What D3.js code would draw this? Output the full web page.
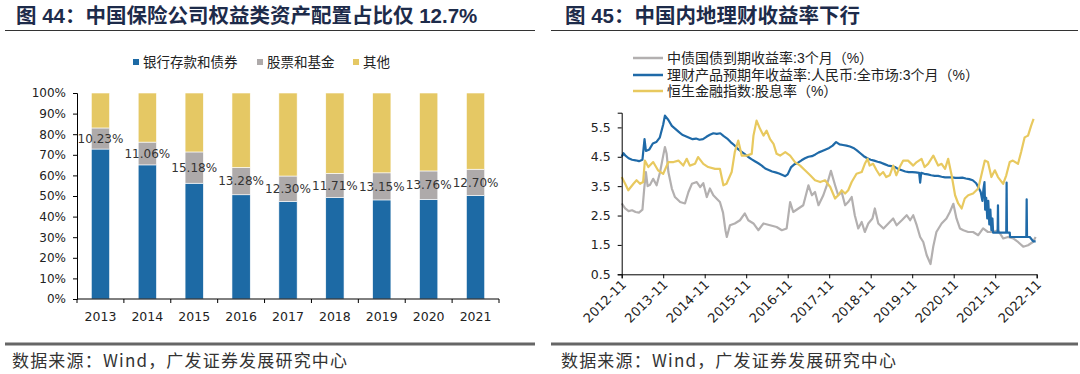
<!DOCTYPE html>
<html><head><meta charset="utf-8">
<script src="https://cdn.jsdelivr.net/npm/d3@7"></script>
<style>body{margin:0;background:#fff} svg{display:block}</style>
</head><body>
<svg id="c" width="1080" height="374"></svg>
<script>
// ---------- Data: left chart (图44) ----------
const barYears = ['2013','2014','2015','2016','2017','2018','2019','2020','2021'];
const bankBond  = [72.8, 65.1, 56.2, 50.6, 47.4, 49.3, 48.1, 48.4, 50.3];
const stockFund = [10.23, 11.06, 15.18, 13.28, 12.30, 11.71, 13.15, 13.76, 12.70];
const otherAsset = [16.97, 23.84, 28.62, 36.12, 40.30, 38.99, 38.75, 37.84, 37.00];
const barSeriesNames = ['银行存款和债券', '股票和基金', '其他'];
const yTicksLeft = [0,10,20,30,40,50,60,70,80,90,100];

// ---------- Data: right chart (图45), [months since 2012-11, value] ----------
const xTickLabels = ['2012-11','2013-11','2014-11','2015-11','2016-11','2017-11','2018-11','2019-11','2020-11','2021-11','2022-11'];
const yTicksRight = [0.5, 1.5, 2.5, 3.5, 4.5, 5.5];
const lineNames = ['中债国债到期收益率:3个月（%）', '理财产品预期年收益率:人民币:全市场:3个月（%）', '恒生金融指数:股息率（%）'];
const govBond3M = [[0,2.91],[1,2.74],[2,2.65],[3,2.68],[4,2.62],[5,2.6],[6,2.7],[6.5,3.4],[7,3.98],[7.5,3.5],[8.2,3.55],[9.1,3.75],[10.1,3.53],[11.1,3.98],[12,4.54],[12.5,4.83],[13,4.6],[13.5,3.98],[14.5,3.42],[15.4,3.13],[16.9,2.96],[18.3,2.91],[19.3,3.3],[20.3,3.58],[21.7,3.64],[22.7,3.47],[23.6,3.6],[24.6,3.13],[25.5,3.42],[26.5,3.19],[27.4,3.08],[28.4,2.96],[29.3,2.6],[30,2.0],[30.4,1.77],[31.3,2.17],[32.7,2.23],[34.2,2.34],[35.6,2.57],[36.6,2.34],[38.1,2.23],[39.5,2.0],[41,2.23],[42.9,2.17],[44.8,2.11],[46.3,2.0],[47.7,2.06],[48.7,2.96],[49.6,2.62],[51.1,2.74],[52.5,2.85],[54,3.53],[55,3.19],[55.9,3.3],[56.9,2.85],[58.3,3.19],[59.3,3.53],[60.5,4.02],[61.7,3.53],[62.6,3.19],[63.6,3.3],[64.6,2.85],[65.5,2.96],[66.5,3.13],[67.4,2.51],[68.4,2.06],[69.4,2.28],[70.3,1.94],[71.3,2.23],[72.5,2.4],[73.2,2.74],[74.2,2.23],[75.7,2.06],[77.1,2.23],[78.5,2.4],[79.5,2.17],[81,2.34],[82.4,2.51],[83.4,2.34],[84.3,2.51],[85.3,2.17],[86.3,1.77],[87.2,1.6],[88.2,1.15],[89.3,0.85],[90.1,1.45],[91,1.94],[92.5,2.23],[93.9,2.4],[94.9,2.62],[95.9,2.9],[96.8,2.4],[97.8,2.06],[98.8,2.0],[100.2,1.94],[101.6,1.94],[103.1,1.83],[104.5,2.06],[105.9,1.94],[107.4,1.94],[108.8,2.0],[110.3,1.72],[111.7,1.77],[113.2,1.72],[114.6,1.6],[116.1,1.44],[117.5,1.49],[118.9,1.6],[119.7,1.77]];
const wealthProd3M = [[0,4.5],[0.5,4.62],[1,4.55],[2,4.45],[3,4.4],[4,4.38],[5,4.35],[6,4.4],[6.6,5.1],[7,4.7],[8,4.75],[9,4.95],[10,5.0],[11,5.15],[12,5.6],[12.5,5.9],[13.5,5.75],[14.5,5.55],[15.5,5.45],[16.5,5.35],[17.5,5.25],[18.5,5.2],[19.5,5.15],[20.5,5.1],[21.5,5.12],[22.5,5.08],[23.5,5.1],[24.5,5.18],[25.5,5.25],[26.5,5.3],[27.5,5.28],[28.5,5.3],[29.5,5.2],[30.5,5.12],[31.5,5.0],[32.5,4.9],[33.5,4.78],[34.5,4.68],[35.5,4.6],[36.5,4.5],[37.5,4.42],[38.5,4.35],[39.5,4.28],[40.5,4.2],[41.5,4.1],[42.5,4.05],[43.5,4.0],[44.5,3.97],[45.5,3.93],[46.5,3.88],[47.3,3.84],[48,3.9],[49,4.15],[50,4.25],[51,4.3],[52,4.38],[53,4.45],[54,4.5],[55,4.52],[56,4.58],[57,4.65],[58,4.7],[59,4.75],[60,4.8],[61,4.88],[62,5.0],[63,4.92],[64,4.9],[65,4.88],[66,4.85],[67,4.8],[68,4.72],[69,4.62],[70,4.52],[71,4.45],[72,4.4],[73,4.37],[74,4.33],[75,4.3],[76,4.25],[77,4.2],[78,4.18],[79,4.15],[80,4.08],[81,4.04],[82,4.0],[83,3.98],[84,3.98],[85,3.97],[86,3.95],[86.3,3.62],[86.6,3.95],[87.5,3.92],[88.5,3.9],[89.5,3.87],[90.5,3.85],[91.5,3.85],[92.5,3.82],[93.5,3.8],[94.5,3.8],[95.5,3.8],[96.5,3.78],[97.5,3.78],[98.5,3.79],[99.5,3.76],[100.5,3.74],[101.5,3.7],[102.5,3.6],[103.2,3.45],[103.8,3.3],[104.3,3.0],[104.6,3.4],[104.9,3.64],[105.1,2.7],[105.4,3.1],[105.7,2.4],[106,3.0],[106.3,2.2],[106.6,2.7],[106.9,2.0],[107.2,2.4],[107.4,1.92],[108.7,1.92],[108.8,2.85],[108.9,1.92],[111.2,1.92],[111.3,3.62],[111.4,1.92],[112.2,1.92],[112.3,1.77],[117,1.77],[117.1,3.05],[117.2,1.77],[118,1.77],[119,1.62],[119.7,1.62]];
const hsFinDiv = [[0,3.81],[1,3.58],[1.9,3.36],[3.4,3.58],[4.3,3.7],[5.3,3.58],[6.2,3.64],[6.7,4.37],[7.7,4.15],[9.1,4.32],[10.5,4.04],[12,3.92],[13.5,4.32],[15,4.32],[16.4,4.37],[17.8,4.2],[18.8,4.43],[19.7,4.2],[21.2,4.26],[22.1,4.49],[23.6,4.26],[25,4.15],[27,4.09],[28.4,4.09],[29.4,3.53],[30.3,3.58],[31.8,3.98],[32.7,4.66],[33.7,5.05],[34.7,4.54],[36.1,4.54],[37.6,4.6],[38.1,5.22],[39,5.73],[40,5.45],[41,5.22],[41.9,5.39],[42.9,5.1],[43.9,4.94],[44.8,4.6],[45.8,4.54],[47.3,4.66],[48.7,4.54],[50.1,4.32],[51.6,4.2],[53,4.04],[54.5,3.87],[55.9,3.7],[57.4,3.64],[58.8,3.7],[60.3,3.47],[61.7,3.08],[62.6,3.19],[63.6,3.36],[64.6,3.25],[65.5,3.36],[66.5,3.64],[67.9,3.92],[69.4,3.98],[70.3,4.26],[71.1,4.43],[71.7,4.2],[72.7,4.26],[73.7,4.04],[74.6,3.87],[75.6,3.98],[76.5,3.81],[77.5,3.87],[78.5,4.2],[79.4,3.87],[80.4,4.15],[81.4,4.37],[82.8,4.37],[84.3,4.2],[85.3,4.32],[86.7,4.43],[87.6,4.15],[88.6,4.26],[90.1,4.54],[91.5,4.2],[92.5,4.26],[93.5,4.09],[94.4,4.43],[95.4,3.87],[96.4,3.19],[97.3,2.91],[98.3,2.74],[99.2,3.08],[100.2,3.19],[101.6,3.25],[103.1,3.42],[104,3.87],[105,4.37],[105.9,4.32],[106.9,3.81],[107.9,4.04],[108.8,3.81],[110.3,3.58],[111.2,3.87],[112.2,4.32],[113.1,4.37],[114.6,4.26],[115.5,4.66],[116.5,5.16],[117.5,5.22],[118.4,5.56],[119.1,5.79]];

// ---------- Styles ----------
const CJK = '"Liberation Sans", "Noto Sans CJK SC", sans-serif';
const CJKONLY = '"Noto Sans CJK SC", sans-serif';
const NUM = '"DejaVu Sans", sans-serif';
const barColors = ['#1d6aa5', '#aeaaaa', '#e5c864'];
const lineColors = ['#b3b0b0', '#1f6aa8', '#e8c95f'];
const titleColor = '#1d2b4a';

const svg = d3.select('#c');

// ---------- Titles, rules, source ----------
function header(x0, x1, tx, label) {
  svg.append('text').attr('x', tx).attr('y', 23)
    .attr('font-family', CJK).attr('font-weight', 'bold').attr('font-size', 20.5)
    .attr('fill', titleColor).text(label);
  svg.append('line').attr('x1', x0).attr('x2', x1).attr('y1', 30.5).attr('y2', 30.5)
    .attr('stroke', '#333').attr('stroke-width', 1);
  svg.append('line').attr('x1', x0).attr('x2', x1).attr('y1', 344).attr('y2', 344)
    .attr('stroke', '#666').attr('stroke-width', 3);
  svg.append('text').attr('x', tx - 4).attr('y', 367)
    .attr('font-family', CJKONLY).attr('font-size', 17).attr('fill', '#333')
    .attr('textLength', 335).attr('lengthAdjust', 'spacing')
    .text('数据来源：Wind，广发证券发展研究中心');
}
header(5, 535, 16, '图 44：中国保险公司权益类资产配置占比仅 12.7%');
header(551, 1078, 565, '图 45：中国内地理财收益率下行');

// ---------- Left chart ----------
const L = {x0: 77, x1: 499, yTop: 93, yBot: 299};
const xb = d3.scaleBand().domain(barYears).range([L.x0, L.x1]).padding(0);
const yb = d3.scaleLinear().domain([0, 100]).range([L.yBot, L.yTop]);
const barW = xb.bandwidth() * 0.39;
const gL = svg.append('g');

const rows = barYears.map((y, i) => ({year: y, vals: [bankBond[i], stockFund[i], otherAsset[i]]}));
rows.forEach(r => {
  let acc = 0;
  r.vals.forEach((v, k) => {
    const y0 = acc, y1 = acc + v; acc = y1;
    gL.append('rect')
      .attr('x', xb(r.year) + (xb.bandwidth() - barW) / 2)
      .attr('width', barW)
      .attr('y', yb(Math.min(y1, 100)))
      .attr('height', yb(y0) - yb(Math.min(y1, 100)))
      .attr('fill', barColors[k]).attr('stroke', '#fff').attr('stroke-width', 0.6);
  });
});
// data labels on 股票和基金 segment
rows.forEach((r, i) => {
  const mid = r.vals[0] + r.vals[1] / 2;
  gL.append('text').attr('x', xb(r.year) + xb.bandwidth() / 2).attr('y', yb(mid))
    .attr('dy', '0.36em').attr('text-anchor', 'middle')
    .attr('font-family', NUM).attr('font-size', 12).attr('fill', '#333')
    .text(stockFund[i].toFixed(2) + '%');
});
// y axis
const yAxisL = d3.axisLeft(yb).tickValues(yTicksLeft).tickSize(4).tickPadding(7).tickFormat(d => d + '%');
const gy = gL.append('g').attr('transform', `translate(${L.x0},0)`).call(yAxisL);
gy.select('.domain').attr('stroke', '#000');
gy.selectAll('.tick line').attr('stroke', '#000');
gy.selectAll('text').attr('font-family', NUM).attr('font-size', 12).attr('fill', '#222');
// x axis with ticks at category boundaries
const gx = gL.append('g').attr('transform', `translate(0,${L.yBot})`);
gx.append('line').attr('x1', L.x0).attr('x2', L.x1).attr('stroke', '#000');
const bounds = barYears.map(y => xb(y)).concat([L.x1]);
gx.selectAll('.bt').data(bounds).enter().append('line')
  .attr('x1', d => d).attr('x2', d => d).attr('y1', 0).attr('y2', 4).attr('stroke', '#000');
gx.selectAll('.bl').data(barYears).enter().append('text')
  .attr('x', d => xb(d) + xb.bandwidth() / 2).attr('y', 22).attr('text-anchor', 'middle')
  .attr('font-family', NUM).attr('font-size', 12.5).attr('fill', '#222').text(d => d);
// legend
const legX = [133, 257, 353];
barSeriesNames.forEach((n, k) => {
  gL.append('rect').attr('x', legX[k]).attr('y', 59).attr('width', 6).attr('height', 6).attr('fill', barColors[k]);
  gL.append('text').attr('x', legX[k] + 10).attr('y', 62).attr('dy', '0.36em')
    .attr('font-family', CJKONLY).attr('font-size', 13.5).attr('fill', '#222').text(n);
});

// ---------- Right chart ----------
const R = {x0: 621.7, x1: 1036.7, yTop: 112.7, yBot: 274.3};
const xr = d3.scaleLinear().domain([0, 120]).range([R.x0, R.x1]);
const yr = d3.scaleLinear().domain([0.5, 6.0]).range([R.yBot, R.yTop]);
const gR = svg.append('g');
const line = d3.line().x(d => xr(d[0])).y(d => yr(d[1]));
[govBond3M, wealthProd3M, hsFinDiv].forEach((s, k) => {
  gR.append('path').datum(s).attr('d', line).attr('fill', 'none')
    .attr('stroke', lineColors[k]).attr('stroke-width', 2.2).attr('stroke-linejoin', 'round');
});
const yAxisR = d3.axisLeft(yr).tickValues(yTicksRight).tickSize(4).tickPadding(7).tickFormat(d3.format('.1f'));
const gyr = gR.append('g').attr('transform', `translate(${R.x0},0)`).call(yAxisR);
gyr.select('.domain').attr('stroke', '#000');
gyr.selectAll('.tick line').attr('stroke', '#000');
gyr.selectAll('text').attr('font-family', NUM).attr('font-size', 12.5).attr('fill', '#222');
const xTickVals = xTickLabels.map((d, i) => i * 12);
const xAxisR = d3.axisBottom(xr).tickValues(xTickVals).tickSize(4).tickFormat((d, i) => xTickLabels[i]);
const gxr = gR.append('g').attr('transform', `translate(0,${R.yBot})`).call(xAxisR);
gxr.select('.domain').attr('stroke', '#000');
gxr.selectAll('.tick line').attr('stroke', '#000');
gxr.selectAll('text').attr('font-family', NUM).attr('font-size', 13).attr('fill', '#222')
  .attr('text-anchor', 'end').attr('dy', null).attr('y', null)
  .attr('transform', 'translate(5,11) rotate(-45)');
// legend
const legY = [58, 75, 91];
lineNames.forEach((n, k) => {
  gR.append('line').attr('x1', 633).attr('x2', 663).attr('y1', legY[k]).attr('y2', legY[k])
    .attr('stroke', lineColors[k]).attr('stroke-width', 2.5);
  gR.append('text').attr('x', 667).attr('y', legY[k]).attr('dy', '0.36em')
    .attr('font-family', CJK).attr('font-size', 14).attr('fill', '#222').text(n);
});
</script></body></html>
